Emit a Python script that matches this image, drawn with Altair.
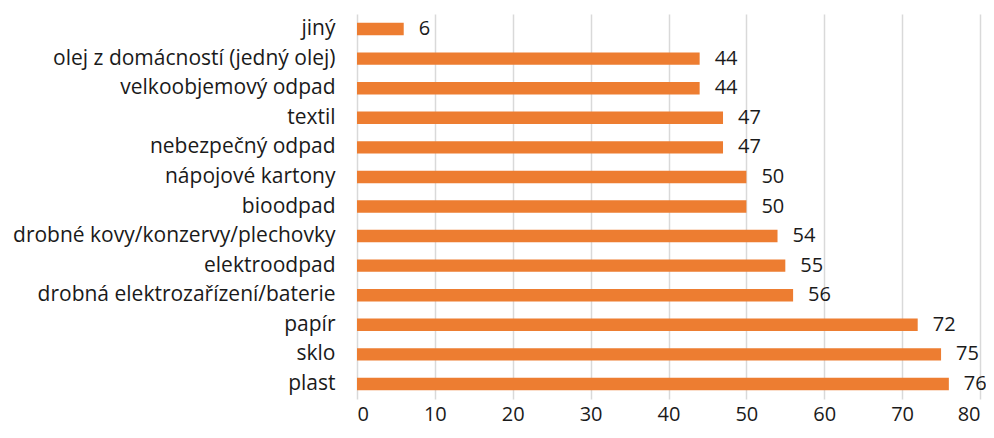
import altair as alt
import pandas as pd

categories = ["jiný", "olej z domácností (jedný olej)", "velkoobjemový odpad", "textil",
              "nebezpečný odpad", "nápojové kartony", "bioodpad",
              "drobné kovy/konzervy/plechovky", "elektroodpad",
              "drobná elektrozařízení/baterie", "papír", "sklo", "plast"]
values = [6, 44, 44, 47, 47, 50, 50, 54, 55, 56, 72, 75, 76]

df = pd.DataFrame({"cat": categories, "val": values})

FONT = "Open Sans"

y = alt.Y("cat:N", sort=categories, title=None,
          scale=alt.Scale(paddingInner=0.58, paddingOuter=0.3),
          axis=alt.Axis(labelFontSize=21, labelFont=FONT, labelColor="#1a1a1a",
                        ticks=False, domain=False, labelPadding=22, labelLimit=400))
x = alt.X("val:Q", title=None,
          scale=alt.Scale(domain=[0, 80], nice=False),
          axis=alt.Axis(values=list(range(0, 81, 10)), labelFontSize=20, labelFont=FONT,
                        labelColor="#1a1a1a", grid=True, gridColor="#d9d9d9", gridWidth=1.5,
                        domain=False, ticks=False, labelPadding=5))

bars = alt.Chart(df).mark_bar(color="#ED7D31").encode(x=x, y=y)
text = alt.Chart(df).mark_text(align="left", baseline="middle", dx=15, fontSize=20,
                               font=FONT, color="#1a1a1a").encode(
    x="val:Q", y=alt.Y("cat:N", sort=categories), text="val:Q")

chart = (bars + text).properties(
    width=623, height=385,
    autosize=alt.AutoSizeParams(type="none"),
    padding={"left": 349, "top": 6, "right": 6, "bottom": 30},
).configure_view(stroke=None)

chart.save("out.html", embed_options={"renderer": "svg", "actions": False})
